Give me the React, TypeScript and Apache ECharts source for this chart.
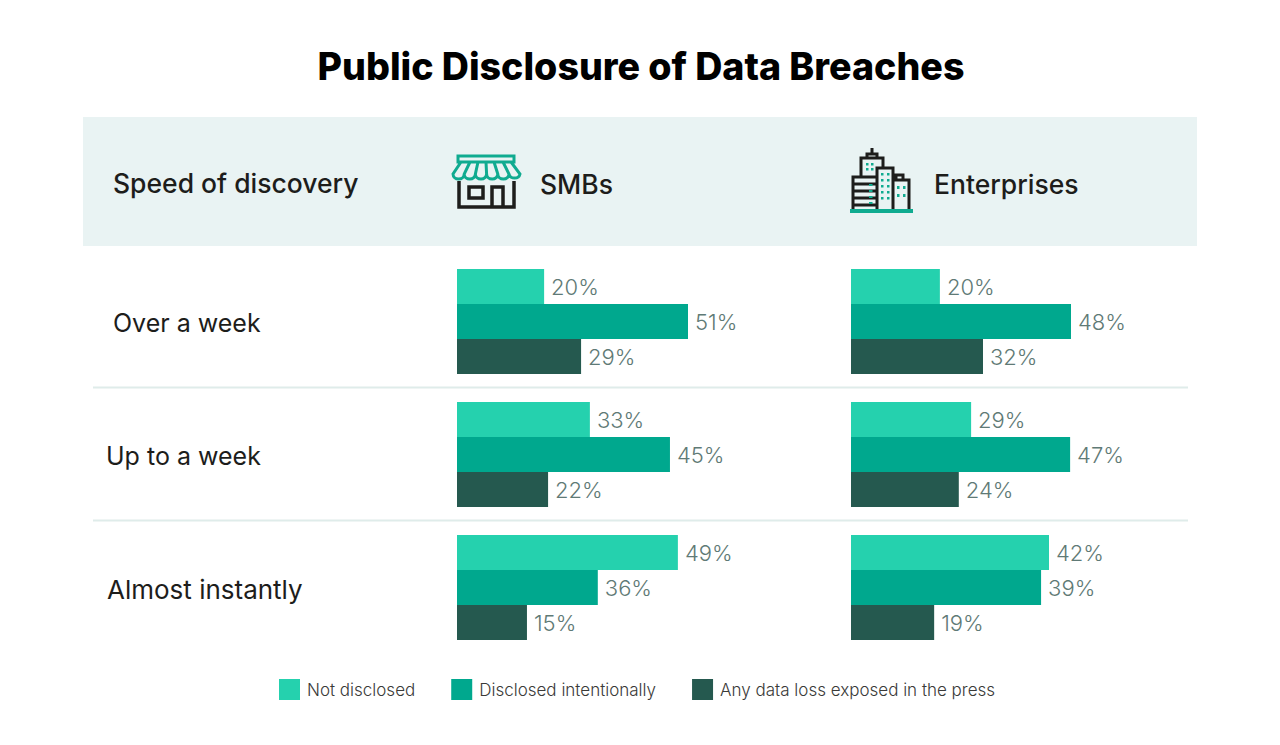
import React, { useEffect, useRef } from "react";
import * as echarts from "echarts";

const title = "Public Disclosure of Data Breaches";
const rowHeader = "Speed of discovery";
const groups = ["SMBs", "Enterprises"];
const categories = ["Over a week", "Up to a week", "Almost instantly"];
const seriesNames = ["Not disclosed", "Disclosed intentionally", "Any data loss exposed in the press"];

// Printed percentages
const smbNotLabels = [20, 33, 49];
const smbIntLabels = [51, 45, 36];
const smbPressLabels = [29, 22, 15];
const entNotLabels = [20, 29, 42];
const entIntLabels = [48, 47, 39];
const entPressLabels = [32, 24, 19];

// Bar lengths: the reference's bars are not strictly
// proportional to their printed percentages, so they are kept separately.
const smbNotBars = [19.8, 30.2, 50.2];
const smbIntBars = [52.5, 48.4, 32];
const smbPressBars = [28.2, 20.7, 15.9];
const entNotBars = [20.2, 27.3, 45];
const entIntBars = [50, 49.8, 43.2];
const entPressBars = [30, 24.5, 18.9];

const COLORS = ["#25d1ae", "#00a88e", "#25594f"];
const INK = "#1d1d1b";
const LABEL = "#5f7a76";
const TEAL = "#10ab90";
const FONT = "Inter, 'Noto Sans', sans-serif";

const ICON_STORE_TEAL =
  "M458 156h56v6h-56zM461 162L453 174a5.6 5 0 0 0 11.2 0L470 162M464.2 174a5.6 5 0 0 0 11.2 0L478 162M475.4 174a5.6 5 0 0 0 11.2 0L486 162M486.6 174a5.6 5 0 0 0 11.2 0L494 162M497.8 174a5.6 5 0 0 0 11.2 0L503 162M509 174a5.6 5 0 0 0 11 0L511 162";
const ICON_STORE_INK = "M459 181V207H514V181M469 187h14v11h-14zM492 207V187h11V207";
const ICON_CITY_INK =
  "M872 148V154M867 158V154H877V158M861 177V158H883V168M853 209V177H877M853 184H877M853 191H877M853 198H877M853 205H877M877 209V168H893V209M893 209V180H909V209M896 180V175H903V180";
const ICON_CITY_TEAL =
  "M866 163h2.5v2.5h-2.5zM871 163h2.5v2.5h-2.5zM866 168h2.5v2.5h-2.5zM871 168h2.5v2.5h-2.5zM869 184h3.5v2h-3.5zM869 190h3.5v2h-3.5zM869 196h3.5v2h-3.5zM869 202h3.5v2h-3.5zM881 173h2.5v2.5h-2.5zM887 173h2.5v2.5h-2.5zM881 179h2.5v2.5h-2.5zM887 179h2.5v2.5h-2.5zM881 185h2.5v2.5h-2.5zM887 185h2.5v2.5h-2.5zM881 191h2.5v2.5h-2.5zM887 191h2.5v2.5h-2.5zM881 197h2.5v2.5h-2.5zM887 197h2.5v2.5h-2.5zM897 186h2.5v3h-2.5zM903 186h2.5v3h-2.5zM897 194h2.5v3h-2.5zM903 194h2.5v3h-2.5z";

echarts.graphic.registerShape("storeTeal", echarts.graphic.extendPath(ICON_STORE_TEAL, {}));
echarts.graphic.registerShape("storeInk", echarts.graphic.extendPath(ICON_STORE_INK, {}));
echarts.graphic.registerShape("cityInk", echarts.graphic.extendPath(ICON_CITY_INK, {}));
echarts.graphic.registerShape("cityTeal", echarts.graphic.extendPath(ICON_CITY_TEAL, {}));

function barSeries(name: string, bars: number[], labels: number[], color: string, axis: number) {
  return {
    type: "bar",
    name,
    xAxisIndex: axis,
    yAxisIndex: axis,
    barWidth: 35,
    barGap: 0,
    itemStyle: { color },
    data: bars.map((v, i) => ({ value: v, printed: labels[i] })),
    label: {
      show: true,
      position: "right",
      distance: 7,
      color: LABEL,
      fontFamily: FONT,
      fontWeight: 300,
      fontSize: 22,
      formatter: (p: any) => `${p.data.printed}%`,
    },
  };
}

export default function App() {
  const ref = useRef<HTMLDivElement>(null);
  useEffect(() => {
    const chart = echarts.init(ref.current!, null, { renderer: "svg" });
    const padding = [7, 0, 1];
    const rich: any = {};
    categories.forEach((_, i) => {
      rich["c" + i] = {
        fontFamily: FONT,
        fontSize: i === 2 ? 26 : 25,
        fontWeight: 400,
        color: INK,
        padding: [3, 0, 0, padding[i]],
      };
    });
    const text = (x: number, y: number, t: string, fontSize: number, fontWeight: number, extra: any = {}) => ({
      type: "text",
      x,
      y,
      z: 5,
      style: { text: t, fontFamily: FONT, fontSize, fontWeight, fill: INK, textVerticalAlign: "middle", ...extra },
    });
    chart.setOption({
      animation: false,
      backgroundColor: "#ffffff",
      grid: [
        { left: 457, top: 255, width: 352, height: 399 },
        { left: 851, top: 255, width: 352, height: 399 },
      ],
      xAxis: [0, 1].map((g) => ({ type: "value", gridIndex: g, min: 0, max: 80, show: false })),
      yAxis: [
        {
          type: "category",
          gridIndex: 0,
          inverse: true,
          data: categories,
          axisLine: { show: false },
          axisTick: { show: false },
          splitLine: { show: false },
          axisLabel: {
            show: true,
            align: "left",
            margin: 351,
            rich,
            formatter: (v: string) => `{c${categories.indexOf(v)}|${v}}`,
          },
        },
        { type: "category", gridIndex: 1, inverse: true, data: categories, show: false },
      ],
      legend: {
        left: 274,
        top: 674,
        itemWidth: 21,
        itemHeight: 21,
        itemGap: 36,
        icon: "rect",
        selectedMode: false,
        data: seriesNames,
        textStyle: { color: "#3a3a38", fontFamily: FONT, fontSize: 17, fontWeight: 300, padding: [0, 0, 0, 2] },
      },
      series: [
        barSeries(seriesNames[0], smbNotBars, smbNotLabels, COLORS[0], 0),
        barSeries(seriesNames[1], smbIntBars, smbIntLabels, COLORS[1], 0),
        barSeries(seriesNames[2], smbPressBars, smbPressLabels, COLORS[2], 0),
        barSeries(seriesNames[0], entNotBars, entNotLabels, COLORS[0], 1),
        barSeries(seriesNames[1], entIntBars, entIntLabels, COLORS[1], 1),
        barSeries(seriesNames[2], entPressBars, entPressLabels, COLORS[2], 1),
      ],
      graphic: [
        { type: "rect", z: -1, shape: { x: 83, y: 117, width: 1114, height: 129 }, style: { fill: "#e9f3f3" } },
        { type: "line", z: 1, shape: { x1: 93, y1: 387.5, x2: 1188, y2: 387.5 }, style: { stroke: "#dfecea", lineWidth: 2 } },
        { type: "line", z: 1, shape: { x1: 93, y1: 520.5, x2: 1188, y2: 520.5 }, style: { stroke: "#dfecea", lineWidth: 2 } },
        text(641, 66, title, 37.6, 800, { textAlign: "center", fill: "#000000" }),
        text(113, 183, rowHeader, 26.5, 500),
        text(540, 184, groups[0], 26.5, 500),
        text(934, 184, groups[1], 26.5, 500),
        { type: "storeInk", z: 4, style: { fill: "none", stroke: INK, lineWidth: 3.5 } },
        { type: "storeTeal", z: 4, style: { fill: "none", stroke: TEAL, lineWidth: 3 } },
        { type: "cityInk", z: 4, style: { fill: "none", stroke: INK, lineWidth: 3 } },
        { type: "cityTeal", z: 4, style: { fill: TEAL } },
        { type: "rect", z: 4, shape: { x: 850, y: 209, width: 63, height: 4 }, style: { fill: TEAL } },
      ],
    });
    return () => chart.dispose();
  }, []);
  return <div ref={ref} style={{ position: "absolute", left: 0, top: 0, width: 1280, height: 745 }} />;
}
